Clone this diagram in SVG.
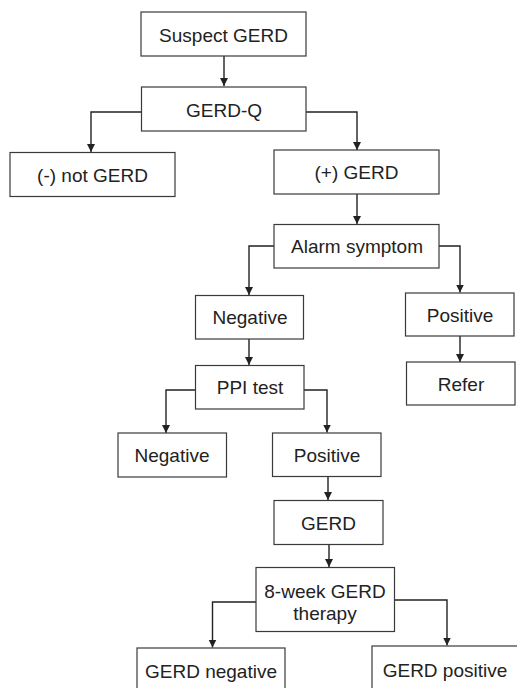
<svg xmlns="http://www.w3.org/2000/svg" width="517" height="688" viewBox="0 0 517 688">
<style>
.box{fill:#fff;stroke:#3a3a3a;stroke-width:1.2}
.t{font-family:"Liberation Sans",Arial,sans-serif;font-size:19px;fill:#222;text-anchor:middle}
.c{fill:none;stroke:#222;stroke-width:1.4}
</style>
<defs>
<marker id="ah" markerUnits="userSpaceOnUse" markerWidth="10" markerHeight="10" refX="8" refY="4" orient="auto">
<path d="M0,0 L8,4 L0,8 Z" fill="#222"/>
</marker>
</defs>
<rect width="517" height="688" fill="#fff"/>
<g id="connectors">
<path class="c" d="M224,56 V86" marker-end="url(#ah)"/>
<path class="c" d="M141.5,112 H91 V152" marker-end="url(#ah)"/>
<path class="c" d="M306,112 H357 V150" marker-end="url(#ah)"/>
<path class="c" d="M357,194 V224" marker-end="url(#ah)"/>
<path class="c" d="M274,246 H249 V295" marker-end="url(#ah)"/>
<path class="c" d="M439,246 H460 V292.5" marker-end="url(#ah)"/>
<path class="c" d="M460,336 V362" marker-end="url(#ah)"/>
<path class="c" d="M249,339 V365" marker-end="url(#ah)"/>
<path class="c" d="M195.5,390 H166 V433" marker-end="url(#ah)"/>
<path class="c" d="M304,390 H327 V432.5" marker-end="url(#ah)"/>
<path class="c" d="M328,476.5 V500" marker-end="url(#ah)"/>
<path class="c" d="M329,544.5 V567" marker-end="url(#ah)"/>
<path class="c" d="M256,602 H212.5 V647.5" marker-end="url(#ah)"/>
<path class="c" d="M394.5,600 H447 V645.5" marker-end="url(#ah)"/>
</g>
<g id="suspect"><rect class="box" x="141" y="12" width="165" height="44"/><text class="t" x="223.5" y="42">Suspect GERD</text></g>
<g id="gerdq"><rect class="box" x="141.5" y="87" width="164.5" height="44"/><text class="t" x="224" y="116.5">GERD-Q</text></g>
<g id="notgerd"><rect class="box" x="10" y="152.5" width="165" height="44"/><text class="t" x="92.5" y="181.5">(-) not GERD</text></g>
<g id="plusgerd"><rect class="box" x="274" y="150" width="165" height="44"/><text class="t" x="356.5" y="179">(+) GERD</text></g>
<g id="alarm"><rect class="box" x="274" y="224.5" width="165" height="43.5"/><text class="t" x="357" y="253">Alarm symptom</text></g>
<g id="neg1"><rect class="box" x="195.5" y="295.5" width="108" height="43.5"/><text class="t" x="250" y="324">Negative</text></g>
<g id="pos1"><rect class="box" x="405.5" y="293" width="108.5" height="43"/><text class="t" x="460" y="321.5">Positive</text></g>
<g id="refer"><rect class="box" x="406.5" y="362" width="108.5" height="43"/><text class="t" x="461" y="390.5">Refer</text></g>
<g id="ppi"><rect class="box" x="195.5" y="365.5" width="108.5" height="43.5"/><text class="t" x="250" y="394">PPI test</text></g>
<g id="neg2"><rect class="box" x="118" y="433" width="108.5" height="44"/><text class="t" x="172" y="462">Negative</text></g>
<g id="pos2"><rect class="box" x="272.5" y="433" width="108.5" height="43.5"/><text class="t" x="327" y="462">Positive</text></g>
<g id="gerd"><rect class="box" x="274" y="500.5" width="109" height="44"/><text class="t" x="328.5" y="529.5">GERD</text></g>
<g id="therapy"><rect class="box" x="256" y="567.5" width="138.5" height="64"/><text class="t" x="325" y="598">8-week GERD</text><text class="t" x="325" y="620">therapy</text></g>
<g id="gerdneg"><rect class="box" x="137" y="648" width="148" height="50"/><text class="t" x="211" y="678">GERD negative</text></g>
<g id="gerdpos"><rect class="box" x="372" y="646" width="150" height="50"/><text class="t" x="445" y="677">GERD positive</text></g>
</svg>
